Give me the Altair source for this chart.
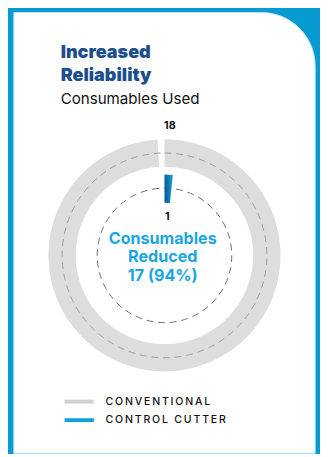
import altair as alt
import pandas as pd

# ---- data ----
series = ["Conventional", "Control Cutter"]
values = [18, 1]
series_colors = ["#d0d0d0", "#14a0dc"]
title_lines = ["Increased", "Reliability"]
subtitle = "Consumables Used"

reduced = values[0] - values[1]
pct = round(reduced / values[0] * 100)
center_lines = ["Consumables", "Reduced", f"{reduced} ({pct}%)"]

W, H = 320, 446
CX, CY = 160.5, 248

df = pd.DataFrame({"series": series, "value": values})
df["label"] = ["\u2009".join(s.upper()) for s in series]
one = pd.DataFrame({"k": [0]})

base_xy = dict(x=alt.value(CX), y=alt.value(CY))

card = alt.Chart(one).mark_rect(
    fill="white", stroke="#c4e7f5", strokeWidth=1, cornerRadiusTopRight=55
).encode(x=alt.value(6), x2=alt.value(315), y=alt.value(-1), y2=alt.value(H + 5))

gray_ring = alt.Chart(df).transform_filter(
    alt.datum.series == series[0]
).mark_arc(radius=119, radius2=91, color="#dddddd").encode(
    theta=alt.Theta("value:Q", scale=alt.Scale(domain=[0, values[0]], range=[0, 6.222])),
    **base_xy,
)

outer_dash = alt.Chart(one).mark_arc(
    radius=105, theta=0, theta2=6.2832, fillOpacity=0,
    stroke="#9a9a9a", strokeWidth=1, strokeDash=[7, 5]
).encode(**base_xy)

inner_dash = alt.Chart(one).mark_arc(
    radius=69, theta=0, theta2=6.2832, fillOpacity=0,
    stroke="#6a6a6a", strokeWidth=1, strokeDash=[7, 5]
).encode(**base_xy)

blue_bar = alt.Chart(df).transform_filter(
    alt.datum.series == series[1]
).mark_arc(
    radius=83, radius2=54,
    fill=alt.Gradient(
        gradient="linear",
        stops=[alt.GradientStop(color="#0b5a98", offset=0),
               alt.GradientStop(color="#18a2dc", offset=1)],
        x1=0, x2=1, y1=0.2, y2=0,
    ),
).encode(
    theta=alt.Theta("value:Q", scale=alt.Scale(domain=[0, values[0]], range=[0, 1.85])),
    **base_xy,
)

val_conv = alt.Chart(df).transform_filter(alt.datum.series == series[0]).mark_text(
    font="Inter", fontWeight="bold", fontSize=11, color="#111111", baseline="alphabetic"
).encode(text="value:Q", x=alt.value(166), y=alt.value(118))

val_cc = alt.Chart(df).transform_filter(alt.datum.series == series[1]).mark_text(
    font="Inter", fontWeight="bold", fontSize=11, color="#111111", baseline="alphabetic"
).encode(text="value:Q", x=alt.value(163.5), y=alt.value(212))

center = alt.Chart(one).mark_text(
    font="Inter", fontWeight="bold", fontSize=16.5, color="#1aa6df",
    baseline="alphabetic", lineHeight=19
).encode(text=alt.value(center_lines), x=alt.value(158.7), y=alt.value(236))

title = alt.Chart(one).mark_text(
    font="Inter", fontWeight=900, fontSize=18.5, color="#1b4e8c",
    align="left", baseline="alphabetic", lineHeight=23
).encode(text=alt.value(title_lines), x=alt.value(54), y=alt.value(46))

sub = alt.Chart(one).mark_text(
    font="Inter", fontSize=15.5, color="#111111", align="left", baseline="alphabetic"
).encode(text=alt.value(subtitle), x=alt.value(54), y=alt.value(92.5))

yscale = alt.Scale(type="point", domain=series, range=[398, 417], padding=0)
cscale = alt.Scale(domain=series, range=series_colors)

leg_lines = alt.Chart(df).mark_rule(strokeWidth=4).encode(
    x=alt.value(58), x2=alt.value(88),
    y=alt.Y("series:N", scale=yscale, axis=None),
    color=alt.Color("series:N", scale=cscale, legend=None),
)

leg_text = alt.Chart(df).mark_text(
    font="Inter", fontWeight=500, fontSize=10.8, color="#111111", align="left", baseline="middle"
).encode(
    x=alt.value(100),
    y=alt.Y("series:N", scale=yscale, axis=None),
    text="label:N",
)

chart = alt.layer(
    card, gray_ring, outer_dash, inner_dash, blue_bar,
    val_conv, val_cc, center, title, sub, leg_lines, leg_text
).resolve_scale(theta="independent").properties(
    width=W, height=H, background="#079bd1", padding=0,
    autosize=alt.AutoSizeParams(type="none"),
).configure_view(strokeWidth=0)

chart.save("out.html", embed_options={"renderer": "svg", "actions": False})
